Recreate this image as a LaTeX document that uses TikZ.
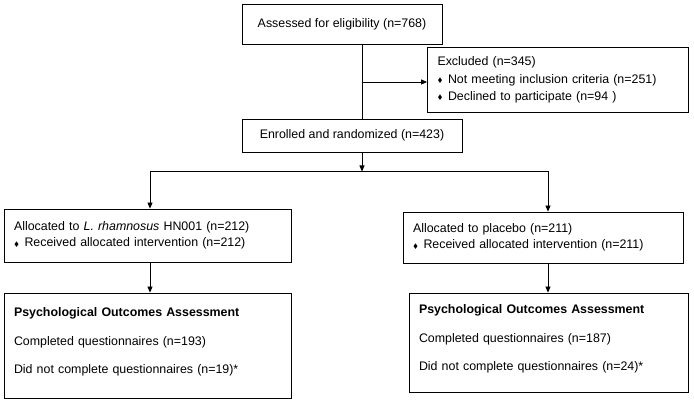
\documentclass[tikz,border=0pt]{standalone}
\usepackage{fontspec}
\setmainfont{Liberation Sans}
\usepackage{amssymb}
\usetikzlibrary{arrows.meta}

\newcommand{\bul}{\makebox[10.5pt][l]{\raisebox{0.8pt}{\fontsize{6.5}{6.5}\selectfont$\blacklozenge$}}}

\begin{document}
\begin{tikzpicture}[x=1pt,y=1pt,
    arr/.style={-{Triangle[length=6pt,width=5pt]}},
    line width=0.8pt]

      \useasboundingbox (0,0) rectangle (694,-403);

      \begin{scope}[every node/.style={draw,line width=0.8pt,inner xsep=10pt,inner ysep=0pt,
          align=left,font=\fontsize{12.4}{15}\selectfont}]
        \node[minimum width=200pt,minimum height=40pt,align=center] (assess) at (342,-24)
          {Assessed for eligibility (n=768)};
        \node[text width=241pt,minimum height=65pt] (excl) at (558,-79.5)
          {Excluded (n=345)\\[3pt]
           \bul Not meeting inclusion criteria (n=251)\\[2pt]
           \bul Declined to participate (n=94 )};
        \node[minimum width=220pt,minimum height=33pt,align=center] (enrol) at (352,-135.5)
          {Enrolled and randomized (n=423)};
        \node[text width=267pt,minimum height=53pt] (allocL) at (147.5,-235.5)
          {Allocated to \textit{L. rhamnosus} HN001 (n=212)\\[1.5pt]
           \bul Received allocated intervention (n=212)};
        \node[text width=260pt,minimum height=51pt] (allocR) at (543,-237.5)
          {Allocated to placebo (n=211)\\[1.5pt]
           \bul Received allocated intervention (n=211)};
        \node[text width=267pt,minimum height=105pt] (outL) at (147.5,-345.5)
          {\textbf{Psychological Outcomes Assessment}\\[14pt]
           Completed questionnaires (n=193)\\[13pt]
           Did not complete questionnaires (n=19)*\\[-6pt] \mbox{}};
        \node[text width=259pt,minimum height=99pt] (outR) at (548.5,-342.5)
          {\textbf{Psychological Outcomes Assessment}\\[14pt]
           Completed questionnaires (n=187)\\[13pt]
           Did not complete questionnaires (n=24)*\\[-6pt] \mbox{}};
      \end{scope}

      \coordinate (split) at (362,-82);
      \coordinate (fork) at (362,-171.5);

      \draw (split |- assess.south) -- (split |- enrol.north);
      \draw[arr] (split) -- (split -| excl.west);
      \draw[arr] (split |- enrol.south) -- (fork);
      \draw[arr] (fork) -| ([xshift=2.5pt]allocL.north);
      \draw[arr] (fork) -| ([xshift=5pt]allocR.north);
      \draw[arr] ([xshift=2.5pt]allocL.south) -- ([xshift=2.5pt]allocL.south |- outL.north);
      \draw[arr] ([xshift=5pt]allocR.south) -- ([xshift=5pt]allocR.south |- outR.north);

\end{tikzpicture}
\end{document}
